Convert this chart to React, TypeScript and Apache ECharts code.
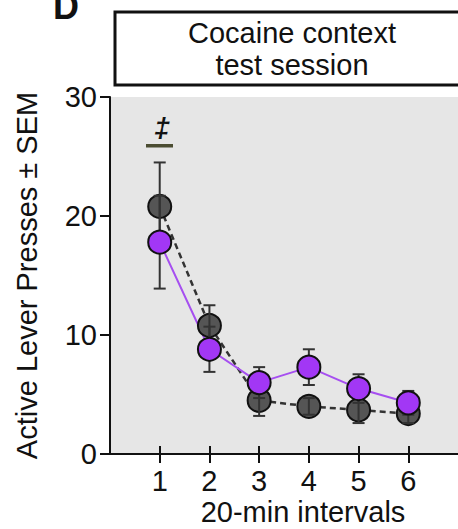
import React, { useEffect, useRef } from "react";
import * as echarts from "echarts";

const intervals = [1, 2, 3, 4, 5, 6];
const xTickLabels = ["1", "2", "3", "4", "5", "6"];
const yTicks = [0, 10, 20, 30];
const controlMean = [20.8, 10.8, 4.5, 4.0, 3.7, 3.4];
const controlSem = [3.7, 1.7, 1.3, 0.7, 1.1, 0.8];
const treatedMean = [17.8, 8.8, 6.0, 7.3, 5.5, 4.3];
const treatedSem = [3.9, 1.9, 1.3, 1.5, 1.2, 1.0];

const FONT = "'Liberation Sans', Arial, Helvetica, sans-serif";
const FS = 29;

export default function App() {
  const ref = useRef<HTMLDivElement>(null);
  useEffect(() => {
    document.body.style.margin = "0";
    if (!ref.current) return;
    const chart = echarts.init(ref.current, null, { renderer: "svg" });
    const ctrlPts = intervals.map((x, i) => [x, controlMean[i]]);
    const trtPts = intervals.map((x, i) => [x, treatedMean[i]]);
    const errData = [
      ...intervals.map((x, i) => [x, controlMean[i] - controlSem[i], controlMean[i] + controlSem[i]]),
      ...intervals.map((x, i) => [x, treatedMean[i] - treatedSem[i], treatedMean[i] + treatedSem[i]]),
    ];
    const axisCommon = {
      type: "value" as const,
      min: 0,
      max: 7,
      interval: 1,
      gridIndex: 0,
      position: "bottom" as const,
      splitLine: { show: false },
    };
    chart.setOption({
      animation: false,
      backgroundColor: "#ffffff",
      grid: {
        left: 110,
        right: -8,
        top: 97,
        bottom: 75,
        show: true,
        backgroundColor: "#e6e6e6",
        borderWidth: 0,
      },
      xAxis: [
        {
          ...axisCommon,
          axisLine: { show: true, onZero: false, lineStyle: { color: "#111", width: 2 } },
          axisTick: { show: true, inside: false, length: 9, customValues: intervals, lineStyle: { color: "#111", width: 2 } },
          axisLabel: {
            show: true,
            customValues: intervals,
            margin: 12,
            fontSize: FS,
            lineHeight: FS,
            fontFamily: FONT,
            color: "#111",
            formatter: (v: number) => xTickLabels[intervals.indexOf(v)] ?? "",
          },
        },
        {
          ...axisCommon,
          axisLine: { show: false },
          axisTick: { show: true, inside: true, length: 8, customValues: intervals, lineStyle: { color: "#111", width: 2 } },
          axisLabel: { show: false },
        },
      ],
      yAxis: {
        type: "value",
        min: 0,
        max: 30,
        interval: 10,
        axisLine: { show: true, lineStyle: { color: "#111", width: 2 } },
        axisTick: { show: true, length: 10, lineStyle: { color: "#111", width: 2 } },
        axisLabel: {
          margin: 13,
          fontSize: FS,
          fontFamily: FONT,
          color: "#111",
          formatter: (v: number) => (yTicks.includes(v) ? String(v) : ""),
        },
        splitLine: { show: false },
        name: "Active Lever Presses ± SEM",
        nameLocation: "middle",
        nameRotate: 90,
        nameGap: 69,
        nameTextStyle: { fontSize: FS, fontFamily: FONT, color: "#111" },
      },
      series: [
        {
          type: "line",
          data: ctrlPts,
          symbol: "none",
          lineStyle: { color: "#333", width: 2.5, type: [6, 4] },
          z: 2,
        },
        {
          type: "line",
          data: trtPts,
          symbol: "none",
          lineStyle: { color: "#a64ff0", width: 2 },
          z: 2,
        },
        {
          type: "scatter",
          data: ctrlPts,
          symbol: "circle",
          symbolSize: 23,
          itemStyle: { color: "#555555", borderColor: "#111", borderWidth: 2, opacity: 1 },
          z: 3,
        },
        {
          type: "custom",
          data: errData,
          z: 4,
          renderItem: (params: any, api: any) => {
            const x = api.value(0);
            const lo = api.coord([x, api.value(1)]);
            const hi = api.coord([x, api.value(2)]);
            const hw = 6;
            const style = { stroke: "#333", lineWidth: 2 };
            return {
              type: "group",
              children: [
                { type: "line", shape: { x1: lo[0], y1: lo[1], x2: hi[0], y2: hi[1] }, style },
                { type: "line", shape: { x1: lo[0] - hw, y1: lo[1], x2: lo[0] + hw, y2: lo[1] }, style },
                { type: "line", shape: { x1: hi[0] - hw, y1: hi[1], x2: hi[0] + hw, y2: hi[1] }, style },
              ],
            };
          },
        },
        {
          type: "scatter",
          data: trtPts,
          symbol: "circle",
          symbolSize: 23,
          itemStyle: { color: "#a237f5", borderColor: "#111", borderWidth: 2, opacity: 1 },
          z: 5,
        },
      ],
      graphic: [
        {
          type: "text",
          left: 53,
          top: -12,
          style: { text: "D", font: `bold 36px ${FONT}`, fill: "#111" },
        },
        {
          type: "rect",
          shape: { x: 115, y: 12, width: 360, height: 73 },
          style: { fill: "#ffffff", stroke: "#111", lineWidth: 3 },
        },
        {
          type: "text",
          x: 292,
          y: 49,
          style: {
            text: "Cocaine context\ntest session",
            font: `${FS}px ${FONT}`,
            lineHeight: 32,
            fill: "#111",
            align: "center",
            verticalAlign: "middle",
          },
        },
        {
          type: "text",
          x: 162,
          y: 127,
          style: { text: "‡", font: `italic bold 28px ${FONT}`, fill: "#111", align: "center", verticalAlign: "middle" },
        },
        {
          type: "rect",
          shape: { x: 146, y: 144, width: 27, height: 3.5 },
          style: { fill: "#4b4d32" },
        },
        {
          type: "text",
          x: 303,
          y: 512,
          style: {
            text: "20-min intervals",
            font: `${FS}px ${FONT}`,
            lineHeight: FS,
            fill: "#111",
            align: "center",
            verticalAlign: "middle",
          },
        },
      ],
    });
    return () => chart.dispose();
  }, []);
  return <div ref={ref} style={{ width: 458, height: 529 }} />;
}
